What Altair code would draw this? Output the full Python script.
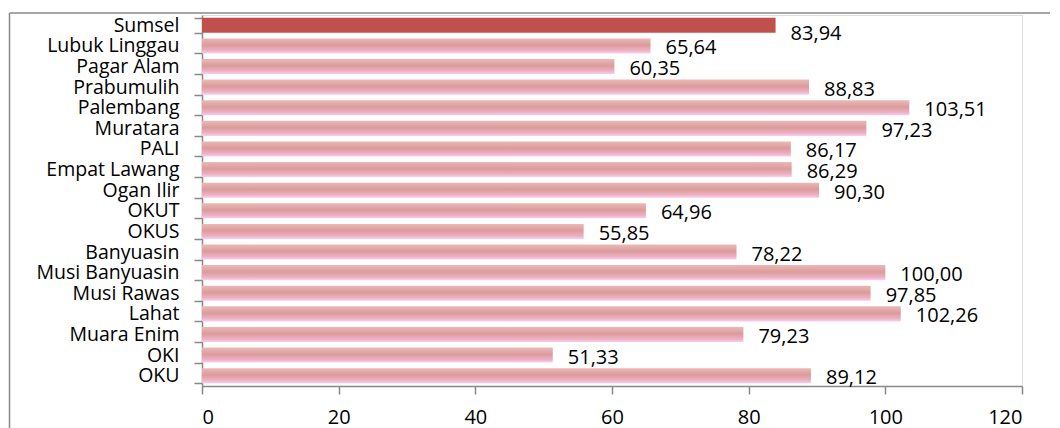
import altair as alt
import pandas as pd

categories = ["Sumsel", "Lubuk Linggau", "Pagar Alam", "Prabumulih", "Palembang",
              "Muratara", "PALI", "Empat Lawang", "Ogan Ilir", "OKUT", "OKUS",
              "Banyuasin", "Musi Banyuasin", "Musi Rawas", "Lahat", "Muara Enim",
              "OKI", "OKU"]
values = [83.94, 65.64, 60.35, 88.83, 103.51, 97.23, 86.17, 86.29, 90.30, 64.96,
          55.85, 78.22, 100.00, 97.85, 102.26, 79.23, 51.33, 89.12]
x_ticks = [0, 20, 40, 60, 80, 100, 120]
title_text = "Provinsi Sumatera Selatan Tahun 2022"
highlight = "Sumsel"

df = pd.DataFrame({
    "wilayah": categories,
    "nilai": values,
    "label": [f"{v:.2f}".replace(".", ",") for v in values],
})

FONT = "Open Sans"
GRAY = "#898989"

y_enc = alt.Y("wilayah:N", sort=categories,
              scale=alt.Scale(paddingInner=0.27, paddingOuter=0.135),
              axis=alt.Axis(title=None, tickBand="extent", tickSize=8, labelPadding=15,
                            domainColor=GRAY, tickColor=GRAY, domainWidth=1.5, tickWidth=1.5,
                            labelFont=FONT, labelFontSize=19.5, labelColor="#000000", grid=False))
x_enc = alt.X("nilai:Q", scale=alt.Scale(domain=[0, 120], nice=False),
              axis=alt.Axis(title=None, values=x_ticks, tickSize=8, labelPadding=13,
                            domainColor=GRAY, tickColor=GRAY, domainWidth=1.5, tickWidth=1.5,
                            labelFont=FONT, labelFontSize=20, labelColor="#000000", grid=False))

base = alt.Chart(df)

grad = alt.Gradient(
    gradient="linear",
    stops=[
        alt.GradientStop(offset=0.0, color="#eab9b8"),
        alt.GradientStop(offset=0.45, color="#db9b99"),
        alt.GradientStop(offset=0.8, color="#edb0c4"),
        alt.GradientStop(offset=1.0, color="#fbcdee"),
    ],
    x1=0, x2=0, y1=0, y2=1,
)

bars_other = base.transform_filter(alt.datum.wilayah != highlight).mark_bar(
    color=grad).encode(x=x_enc, y=y_enc)
bars_main = base.transform_filter(alt.datum.wilayah == highlight).mark_bar(
    color="#c0504d").encode(x=x_enc, y=y_enc)

text_other = base.transform_filter(alt.datum.wilayah != highlight).mark_text(
    align="left", baseline="alphabetic", dx=15, dy=8.5, font=FONT, fontSize=20,
    color="#000000").encode(x="nilai:Q", y=alt.Y("wilayah:N", sort=categories), text="label:N")
text_main = base.transform_filter(alt.datum.wilayah == highlight).mark_text(
    align="left", baseline="alphabetic", dx=15, dy=15, font=FONT, fontSize=20,
    color="#000000").encode(x="nilai:Q", y=alt.Y("wilayah:N", sort=categories), text="label:N")

one = alt.Chart(pd.DataFrame({"k": [0]}))
frame_top = one.mark_rule(color=GRAY, strokeWidth=1.5).encode(
    x=alt.value(-192.5), x2=alt.value(900), y=alt.value(-2))
frame_left = one.mark_rule(color=GRAY, strokeWidth=1.5).encode(
    x=alt.value(-192.5), y=alt.value(-2), y2=alt.value(450))
title = one.mark_text(font="Liberation Serif", fontSize=32, fontWeight="bold",
                      align="center", baseline="alphabetic", color="#000000").encode(
    x=alt.value(335), y=alt.value(-10), text=alt.value(title_text))

chart = alt.layer(bars_other, bars_main, text_other, text_main,
                  frame_top, frame_left, title).properties(
    width=820, height=371,
    autosize=alt.AutoSizeParams(type="none"),
    padding={"left": 194, "top": 7, "right": 28, "bottom": 42},
).configure_view(strokeWidth=0, stroke="transparent").configure(background="#ffffff")

chart.save("out.html", embed_options={"renderer": "svg", "actions": False})
